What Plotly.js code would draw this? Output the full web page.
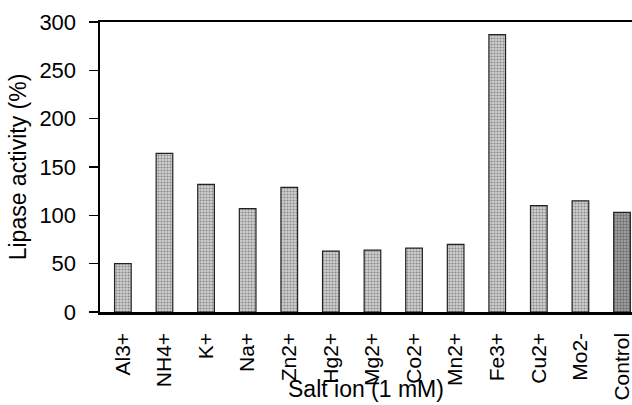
<!DOCTYPE html>
<html><head><meta charset="utf-8">
<script src="https://cdn.plot.ly/plotly-3.0.1.min.js"></script>
<style>html,body{margin:0;padding:0;background:#fff}#chart{width:632px;height:405px}</style>
</head><body><div id="chart"></div>
<script>
const categories = ["Al3+","NH4+","K+","Na+","Zn2+","Hg2+","Mg2+","Co2+","Mn2+","Fe3+","Cu2+","Mo2-","Control"];
const activity = [50,164,132,107,129,63,64,66,70,287,110,115,103];
const yTicks = [0,50,100,150,200,250,300];

const isControl = categories.map(c => c === "Control");
const trace = {
  type: "bar",
  x: categories,
  y: activity,
  width: 0.4,
  marker: {
    color: isControl.map(c => c ? "#9c9c9c" : "#d0d0d0"),
    line: {color: "#222", width: 1.2},
    pattern: {
      fillmode: "overlay",
      shape: isControl.map(c => c ? "+" : "."),
      fgcolor: isControl.map(c => c ? "#333" : "#808080"),
      size: 3,
      solidity: 0.4
    }
  },
  hoverinfo: "x+y"
};
const font = {family: "Liberation Sans, Arial, sans-serif", color: "#000"};
const layout = {
  width: 632, height: 405,
  margin: {l: 100, r: 0, t: 22, b: 93},
  paper_bgcolor: "#fff", plot_bgcolor: "#fff",
  showlegend: false,
  font: Object.assign({size: 20}, font),
  xaxis: {
    type: "category",
    range: [-0.55, 12.24],
    showline: true, linecolor: "#000", linewidth: 2.5, mirror: true,
    ticks: "", tickangle: -90, ticklabelstandoff: 10,
    tickfont: Object.assign({size: 21}, font),
    showgrid: false, zeroline: false, automargin: false
  },
  yaxis: {
    range: [0, 300],
    tickvals: yTicks,
    showline: true, linecolor: "#000", linewidth: 2.5,
    ticks: "outside", ticklen: 9, tickwidth: 1.5, tickcolor: "#000",
    ticklabelstandoff: 8,
    tickfont: Object.assign({size: 22}, font),
    showgrid: false, zeroline: false, automargin: false,
    title: {text: "Lipase activity (%)", font: Object.assign({size: 23}, font), standoff: 7}
  },
  annotations: [{
    text: "Salt ion (1 mM)", xref: "paper", yref: "paper",
    x: 0.5, y: -0.265, xanchor: "center", yanchor: "middle",
    showarrow: false, font: Object.assign({size: 23}, font)
  }]
};
Plotly.newPlot("chart", [trace], layout, {staticPlot: true, displayModeBar: false});
</script></body></html>
